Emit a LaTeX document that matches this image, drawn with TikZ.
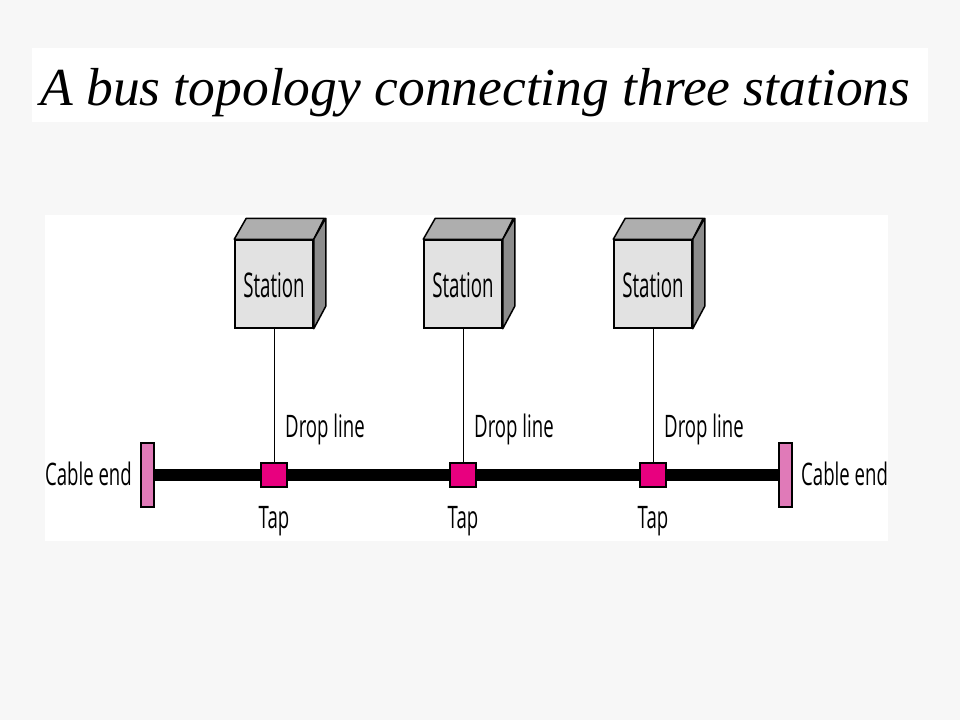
\documentclass[tikz,border=0pt]{standalone}
\usepackage{fontspec}
\setmainfont{Liberation Serif}
\newfontfamily\lblfont[FakeStretch=0.6]{Open Sans}
\newfontfamily\stfont[FakeStretch=0.55]{Open Sans}
\definecolor{bgc}{HTML}{F7F7F7}
\definecolor{frontc}{HTML}{E2E2E2}
\definecolor{topc}{HTML}{AEAEAE}
\definecolor{sidec}{HTML}{8C8C8C}
\definecolor{tapc}{HTML}{E8007F}
\definecolor{endc}{HTML}{E07AB8}
\tikzset{
  lbl/.style={font=\lblfont\fontsize{31}{34}\selectfont, inner sep=0pt},
  tapbox/.style={draw=black, line width=1.2pt, fill=tapc, minimum width=26, minimum height=24, inner sep=0pt},
  endbox/.style={draw=black, line width=1.2pt, fill=endc, minimum width=13, minimum height=64, inner sep=0pt},
  stfront/.style={draw=black, line width=1.5pt, fill=frontc, minimum width=78, minimum height=88, inner sep=0pt},
  sttext/.style={font=\stfont\fontsize{34}{36}\selectfont, inner sep=0pt, anchor=base},
  facestyle/.style={draw=black, line width=1.5pt, line join=round},
  drop/.style={line width=0.9pt},
  bus/.style={line width=12pt}
}
\begin{document}
\begin{tikzpicture}[x=1pt,y=-1pt]
\useasboundingbox (0,0) rectangle (960,720);
\fill[bgc] (0,0) rectangle (960,720);
\fill[white] (32,48) rectangle (928,122);
\fill[white] (45,215) rectangle (888,541);
\node[anchor=base west, inner sep=0pt, font=\itshape\fontsize{53.5}{60}\selectfont] (title) at (40,105) {A bus topology connecting three stations};
% bus
\node[endbox] (endL) at (147.5,475) {};
\node[endbox] (endR) at (785.5,475) {};
\draw[bus] (endL.east) -- (endR.west);
\foreach \i/\x in {1/274,2/463,3/653}{
  \node[stfront] (st\i) at (\x,284) {};
  \filldraw[facestyle, fill=topc] (st\i.north west) -- ++(12,-21) -- ++(78,0) -- (st\i.north east) -- cycle;
  \filldraw[facestyle, fill=sidec] (st\i.north east) -- ++(12,-21) -- ++(0,88) -- (st\i.south east) -- cycle;
  \node[sttext] (stl\i) at (\x,297) {Station};
  \node[tapbox] (tap\i) at (\x,475) {};
  \draw[drop] (st\i.south) -- (tap\i.north);
  \node[lbl, anchor=base west] (dl\i) at (\x+11,437) {Drop line};
  \node[lbl, anchor=base] (tl\i) at (\x,528) {Tap};
}
\node[lbl, anchor=base east] (ceL) at (132,485) {Cable end};
\node[lbl, anchor=base west] (ceR) at (801,485) {Cable end};
\end{tikzpicture}
\end{document}
